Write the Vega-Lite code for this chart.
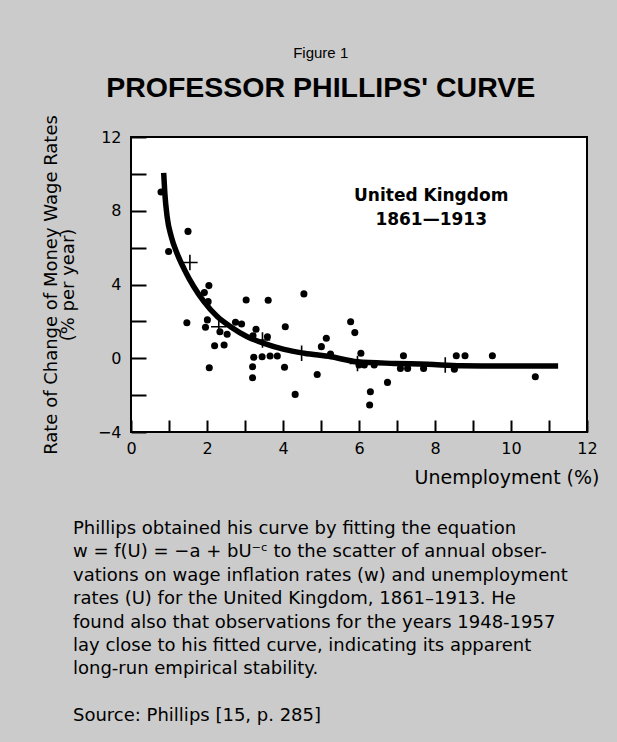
{
  "$schema": "https://vega.github.io/schema/vega-lite/v6.json",
  "background": "#cbcbcb",
  "padding": {"left": 41, "top": 46, "right": 18, "bottom": 16},
  "title": {
    "text": "Figure 1",
    "subtitle": "PROFESSOR PHILLIPS' CURVE",
    "anchor": "middle",
    "frame": "bounds",
    "font": "Liberation Sans",
    "fontSize": 15,
    "fontWeight": "normal",
    "color": "black",
    "subtitleFont": "Liberation Sans",
    "subtitleFontSize": 28.5,
    "subtitleFontWeight": "bold",
    "subtitleColor": "black",
    "subtitlePadding": 13,
    "offset": 11
  },
  "spacing": 29,
  "vconcat": [
    {
      "width": 456,
      "height": 295,
      "layer": [
        {
          "mark": {"type": "rule", "color": "black", "strokeWidth": 1.5},
          "encoding": {"y": {"datum": 0, "type": "quantitative"}}
        },
        {
          "data": {"values": [
            {"U": 0.86, "w": 10.05}, {"U": 0.89, "w": 8.96}, {"U": 0.95, "w": 7.69},
            {"U": 1.06, "w": 6.6}, {"U": 1.21, "w": 5.7}, {"U": 1.41, "w": 4.79},
            {"U": 1.65, "w": 3.89}, {"U": 1.92, "w": 3.07}, {"U": 2.27, "w": 2.26},
            {"U": 2.62, "w": 1.71}, {"U": 3.06, "w": 1.17}, {"U": 3.5, "w": 0.81},
            {"U": 4.03, "w": 0.48}, {"U": 4.56, "w": 0.27}, {"U": 5.26, "w": 0.08},
            {"U": 5.96, "w": -0.19}, {"U": 6.93, "w": -0.28}, {"U": 7.81, "w": -0.33},
            {"U": 8.69, "w": -0.41}, {"U": 9.57, "w": -0.42}, {"U": 10.45, "w": -0.42},
            {"U": 11.24, "w": -0.42}
          ]},
          "mark": {"type": "line", "color": "black", "strokeWidth": 5.5, "interpolate": "monotone", "strokeCap": "butt"},
          "encoding": {
            "x": {"field": "U", "type": "quantitative"},
            "y": {"field": "w", "type": "quantitative"}
          }
        },
        {
          "data": {"values": [
            {"U": 0.79, "w": 9.02}, {"U": 0.99, "w": 5.79}, {"U": 1.5, "w": 6.88},
            {"U": 1.47, "w": 1.93}, {"U": 2.05, "w": 3.94}, {"U": 1.93, "w": 3.56},
            {"U": 2.03, "w": 3.07}, {"U": 2.01, "w": 2.08}, {"U": 1.96, "w": 1.68},
            {"U": 2.34, "w": 1.44}, {"U": 2.53, "w": 1.3}, {"U": 2.2, "w": 0.68},
            {"U": 2.45, "w": 0.72}, {"U": 2.06, "w": -0.52}, {"U": 2.75, "w": 1.95},
            {"U": 2.91, "w": 1.86}, {"U": 3.03, "w": 3.16}, {"U": 3.29, "w": 1.57},
            {"U": 3.21, "w": 1.22}, {"U": 3.59, "w": 1.17}, {"U": 3.61, "w": 3.15},
            {"U": 4.06, "w": 1.71}, {"U": 4.55, "w": 3.49}, {"U": 3.23, "w": 0.05},
            {"U": 3.45, "w": 0.08}, {"U": 3.66, "w": 0.12}, {"U": 3.85, "w": 0.12},
            {"U": 3.2, "w": -0.46}, {"U": 3.2, "w": -1.06}, {"U": 4.04, "w": -0.49},
            {"U": 4.32, "w": -1.96}, {"U": 4.9, "w": -0.88}, {"U": 5.01, "w": 0.63},
            {"U": 5.14, "w": 1.08}, {"U": 5.25, "w": 0.23}, {"U": 5.78, "w": 1.98},
            {"U": 5.89, "w": 1.39}, {"U": 6.05, "w": 0.27}, {"U": 6.0, "w": -0.37},
            {"U": 6.14, "w": -0.37}, {"U": 6.4, "w": -0.37}, {"U": 6.3, "w": -1.82},
            {"U": 6.28, "w": -2.54}, {"U": 6.75, "w": -1.31}, {"U": 7.17, "w": 0.14},
            {"U": 7.09, "w": -0.55}, {"U": 7.28, "w": -0.55}, {"U": 7.7, "w": -0.55},
            {"U": 8.56, "w": 0.14}, {"U": 8.79, "w": 0.14}, {"U": 8.51, "w": -0.59},
            {"U": 9.51, "w": 0.14}, {"U": 10.64, "w": -1.0}
          ]},
          "mark": {"type": "point", "shape": "circle", "filled": true, "color": "black", "size": 50, "opacity": 1},
          "encoding": {
            "x": {"field": "U", "type": "quantitative"},
            "y": {"field": "w", "type": "quantitative"}
          }
        },
        {
          "data": {"values": [
            {"U": 1.55, "w": 5.19}, {"U": 2.31, "w": 1.71}, {"U": 3.46, "w": 0.99},
            {"U": 4.49, "w": 0.27}, {"U": 5.96, "w": -0.28}, {"U": 8.27, "w": -0.37}
          ]},
          "mark": {"type": "point", "shape": "M-1,0H1M0,-1V1", "filled": false, "color": "black", "strokeWidth": 1.6, "size": 240, "opacity": 1},
          "encoding": {
            "x": {"field": "U", "type": "quantitative"},
            "y": {"field": "w", "type": "quantitative"}
          }
        },
        {
          "data": {"values": [
            {"U": 7.9, "w": 8.8, "label": "United Kingdom"},
            {"U": 7.9, "w": 7.5, "label": "1861\u20141913"}
          ]},
          "mark": {"type": "text", "font": "DejaVu Sans", "fontSize": 17, "fontWeight": "bold", "color": "black", "align": "center", "baseline": "middle"},
          "encoding": {
            "x": {"field": "U", "type": "quantitative"},
            "y": {"field": "w", "type": "quantitative"},
            "text": {"field": "label"}
          }
        }
      ],
      "encoding": {
        "x": {
          "type": "quantitative",
          "scale": {"domain": [0, 12], "nice": false, "zero": false},
          "axis": {
            "values": [0, 1, 2, 3, 4, 5, 6, 7, 8, 9, 10, 11, 12],
            "labelExpr": "datum.value % 2 === 0 ? datum.label : ''",
            "title": "Unemployment (%)",
            "titleAnchor": "end",
            "titleAlign": "right",
            "titleX": 468,
            "titlePadding": 12,
            "titleFont": "DejaVu Sans",
            "titleFontSize": 19,
            "titleFontWeight": "normal",
            "titleColor": "black",
            "tickSize": -12,
            "tickWidth": 2,
            "tickColor": "black",
            "domain": false,
            "grid": false,
            "labelFlush": false,
            "labelFont": "DejaVu Sans",
            "labelFontSize": 16,
            "labelColor": "black",
            "labelPadding": 20
          }
        },
        "y": {
          "type": "quantitative",
          "scale": {"domain": [-4, 12], "nice": false, "zero": false},
          "axis": {
            "values": [-4, -2, 0, 2, 4, 6, 8, 10, 12],
            "labelExpr": "datum.value % 4 === 0 ? datum.label : ''",
            "title": ["Rate of Change of Money Wage Rates", "(% per year)"],
            "titleFont": "DejaVu Sans",
            "titleFontSize": 18,
            "titleFontWeight": "normal",
            "titleColor": "black",
            "titleLineHeight": 17,
            "titlePadding": 20,
            "tickSize": -15,
            "tickWidth": 2,
            "tickColor": "black",
            "domain": false,
            "grid": false,
            "labelFlush": false,
            "labelFont": "DejaVu Sans",
            "labelFontSize": 16,
            "labelColor": "black",
            "labelPadding": 25
          }
        }
      },
      "view": {"stroke": "black", "strokeWidth": 2, "fill": "white"}
    },
    {
      "width": 456,
      "height": 211,
      "view": {"stroke": null, "fill": null},
      "data": {"values": [
        {"line": 1, "text": "Phillips obtained his curve by fitting the equation"},
        {"line": 2, "text": "w = f(U) = \u2212a + bU\u207b\u1d9c to the scatter of annual obser-"},
        {"line": 3, "text": "vations on wage inflation rates (w) and unemployment"},
        {"line": 4, "text": "rates (U) for the United Kingdom, 1861\u20131913. He"},
        {"line": 5, "text": "found also that observations for the years 1948-1957"},
        {"line": 6, "text": "lay close to his fitted curve, indicating its apparent"},
        {"line": 7, "text": "long-run empirical stability."},
        {"line": 9, "text": "Source:  Phillips [15, p. 285]"}
      ]},
      "mark": {"type": "text", "font": "DejaVu Sans", "fontSize": 18, "color": "black", "align": "left", "baseline": "middle"},
      "encoding": {
        "x": {"value": -58},
        "y": {"field": "line", "type": "quantitative", "axis": null, "scale": {"domain": [0.5, 9.5], "reverse": true, "nice": false, "zero": false}},
        "text": {"field": "text"}
      }
    }
  ]
}
